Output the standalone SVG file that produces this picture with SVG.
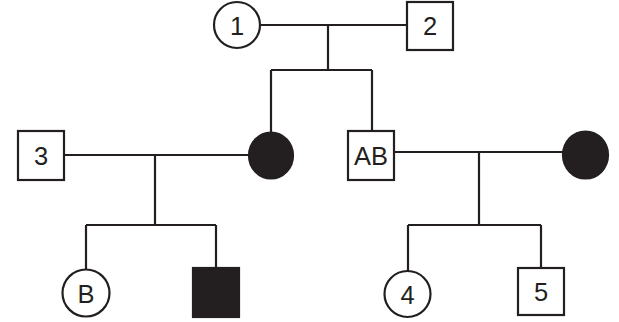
<svg xmlns="http://www.w3.org/2000/svg" width="619" height="322" viewBox="0 0 619 322">
<style>
.s{fill:#fff;stroke:#231f20;stroke-width:2.2}
.f{fill:#231f20;stroke:#231f20;stroke-width:2.2}
.l{fill:none;stroke:#231f20;stroke-width:2.2}
.t{font-family:"Liberation Sans",Arial,sans-serif;font-size:25.5px;fill:#231f20;text-anchor:middle;dominant-baseline:central}
</style>
<rect width="619" height="322" fill="#fff"/>
<g id="connectors">
<path class="l" d="M260,25H407M328,25V70M271,70H372M271,70V132M372,70V131"/>
<path class="l" d="M64,155H249M155,155V225M86,225H216M86,225V269M216,225V268"/>
<path class="l" d="M394,152H563M479,152V225M408,225H541M408,225V271M541,225V268"/>
</g>
<g id="n1"><circle class="s" cx="237" cy="25" r="23"/><text class="t" x="237" y="26">1</text></g>
<g id="n2"><rect class="s" x="407" y="2" width="46" height="48"/><text class="t" x="430" y="26">2</text></g>
<g id="n3"><rect class="s" x="18" y="131" width="46" height="49"/><text class="t" x="41" y="156">3</text></g>
<g id="mother"><ellipse class="f" cx="271" cy="155.5" rx="22" ry="23"/></g>
<g id="nAB"><rect class="s" x="348" y="131" width="46" height="49"/><text class="t" x="371" y="156">AB</text></g>
<g id="wife"><ellipse class="f" cx="585.5" cy="155" rx="22.5" ry="23.5"/></g>
<g id="nB"><circle class="s" cx="86" cy="293" r="23.5"/><text class="t" x="86" y="294">B</text></g>
<g id="son"><rect class="f" x="193" y="268" width="46" height="49"/></g>
<g id="n4"><circle class="s" cx="407.5" cy="294" r="23"/><text class="t" x="407.5" y="295">4</text></g>
<g id="n5"><rect class="s" x="518" y="268" width="46" height="47"/><text class="t" x="541" y="292">5</text></g>
</svg>
